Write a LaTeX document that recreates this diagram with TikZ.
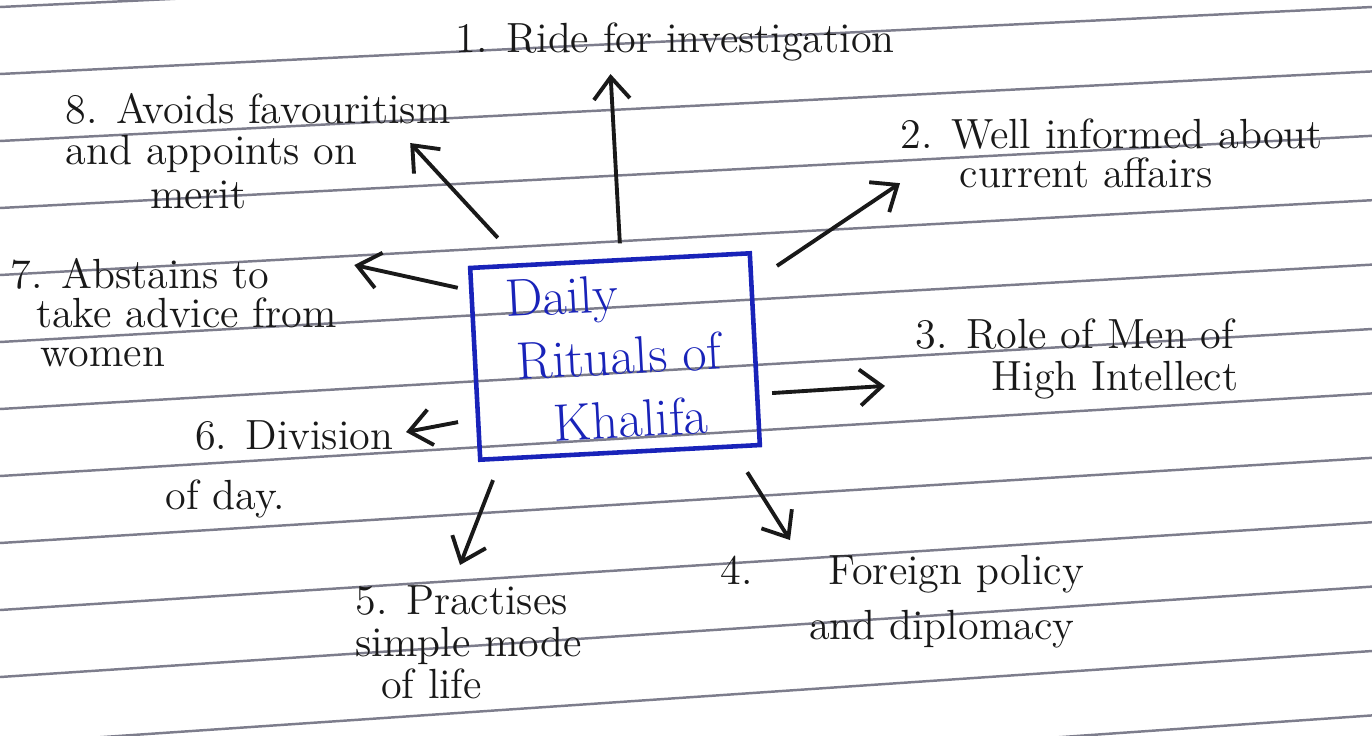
\documentclass[tikz,border=0pt]{standalone}
\usepackage{tikz}
\usetikzlibrary{positioning, arrows.meta}
\definecolor{tinta}{RGB}{25,35,185}
\definecolor{renglon}{RGB}{125,125,140}
\newcommand{\notefont}[1]{\fontsize{12pt}{#1pt}\selectfont\setlength{\lineskiplimit}{-20pt}}

\begin{document}
\begin{tikzpicture}[
	mainbox/.style = {
		draw=tinta,
		line width=1.3pt,
		text=tinta,
		minimum width=2.8cm,
		minimum height=1.92cm,
		align=left,
		font=\fontsize{15pt}{18pt}\selectfont,
		inner sep=0pt
	},
	note/.style = {
		align=left,
		inner sep=0pt,
		text=black!90,
		font=\notefont{#1}
	},
	note/.default = 13,
	arr/.style = {-{Straight Barb[length=2.2mm,width=3.6mm]}, line width=1.1pt, black!90},
	ruled/.style = {renglon, line width=0.7pt}
	]
	
	\useasboundingbox (0,0) rectangle (13.72,7.35);
	\fill[white] (0,0) rectangle (13.72,7.35);
	
	% ruled paper
	\begin{scope}
		\clip (0,0) rectangle (13.72,7.35);
		\foreach \k in {0,...,12}
			\draw[ruled] (0,{7.28-0.67*\k}) -- (13.72,{7.28-0.644*(\k-1)});
	\end{scope}
	
	\node[mainbox, rotate=3] (box) at (6.15,3.785) {Daily\\\hspace*{0.15em}Rituals of\\\hspace*{0.8em}Khalifa};
	
	\node[note, anchor=north west] (r1) at (4.55,7.13) {1. Ride for investigation};
	\node[note=11, anchor=north west] (r2) at (9.00,6.17) {2. Well informed about\\\hspace*{1.4em}current affairs};
	\node[note=12, anchor=north west] (r3) at (9.15,4.17) {3. Role of Men of\\\hspace*{1.8em}High Intellect};
	\node[note=15.5, anchor=north west] (r4) at (7.20,1.80) {4.\hspace{1.8em}Foreign policy\\\hspace*{2.1em}and diplomacy};
	\node[note=12, anchor=north west] (r5) at (3.55,1.50) {5. Practises\\simple mode\\\hspace*{0.6em}of life};
	\node[note=17, anchor=north west] (r6) at (1.65,3.15) {\hspace*{0.7em}6. Division\\of day.};
	\node[note=11, anchor=north west] (r7) at (0.10,4.77) {7. Abstains to\\\hspace*{0.6em}take advice from\\\hspace*{0.7em}women};
	\node[note=11.5, anchor=north west] (r8) at (0.65,6.42) {8. Avoids favouritism\\and appoints on\\[1pt]\hspace*{2em}merit};
	
	\draw[arr, shorten >=3.5pt] ([shift={(0.1,0.15)}]box.north) -- (box.north |- r1.south);
	\draw[arr] ([shift={(0.25,-0.15)}]box.north east) -- ([shift={(0,0.05)}]r2.south west);
	\draw[arr] ([shift={(0.15,-0.44)}]box.east) -- ([shift={(-0.30,0.14)}]r3.south west);
	\draw[arr] ([shift={(-0.15,-0.25)}]box.south east) -- ([shift={(0.7,0.15)}]r4.north west);
	\draw[arr] ([shift={(0.15,-0.18)}]box.south west) -- ([shift={(1.05,0.2)}]r5.north west);
	\draw[arr] ([shift={(-0.2,0.4)}]box.south west) -- ([shift={(0.12,-0.12)}]r6.north east);
	\draw[arr] ([shift={(-0.1,-0.22)}]box.north west) -- ([shift={(0.17,-0.07)}]r7.north east);
	\draw[arr] ([shift={(0.3,0.28)}]box.north west) -- ([shift={(-0.41,-0.50)}]r8.north east);
	
\end{tikzpicture}
\end{document}
